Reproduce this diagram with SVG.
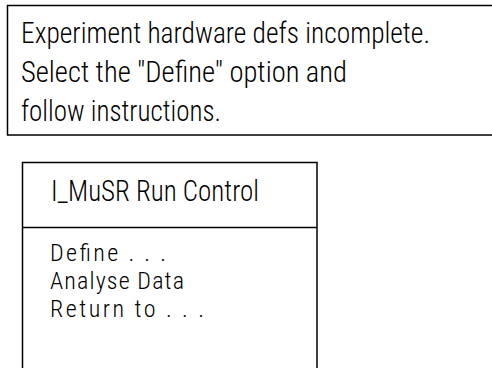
<svg xmlns="http://www.w3.org/2000/svg" width="492" height="368" viewBox="0 0 492 368">
<style>
.box{fill:#fff;stroke:#000;stroke-width:1.5}
.t{font-family:"Roboto Condensed",Roboto,"DejaVu Sans Condensed","Liberation Sans",sans-serif;font-weight:300;fill:#000}
.a{font-size:29px}
.b{font-size:24px}
</style>
<rect width="492" height="368" fill="#fff"/>
<g id="message">
<rect class="box" x="7.5" y="5.5" width="485.5" height="129.5"/>
<text class="t a" x="21" y="43" textLength="409" lengthAdjust="spacingAndGlyphs">Experiment hardware defs incomplete.</text>
<text class="t a" x="21" y="82" textLength="326" lengthAdjust="spacingAndGlyphs">Select the "Define" option and</text>
<text class="t a" x="21" y="121" textLength="200" lengthAdjust="spacingAndGlyphs">follow instructions.</text>
</g>
<g id="menu">
<rect class="box" x="22.5" y="162.5" width="294.5" height="207"/>
<line class="box" x1="22.5" y1="227.5" x2="317" y2="227.5"/>
<text class="t a" x="51" y="201" textLength="208" lengthAdjust="spacingAndGlyphs">I_MuSR Run Control</text>
<text class="t b" x="50" y="261" textLength="116" lengthAdjust="spacing">Define . . .</text>
<text class="t b" x="50" y="289" textLength="134" lengthAdjust="spacing">Analyse Data</text>
<text class="t b" x="50" y="317" textLength="154" lengthAdjust="spacing">Return to . . .</text>
</g>
</svg>
